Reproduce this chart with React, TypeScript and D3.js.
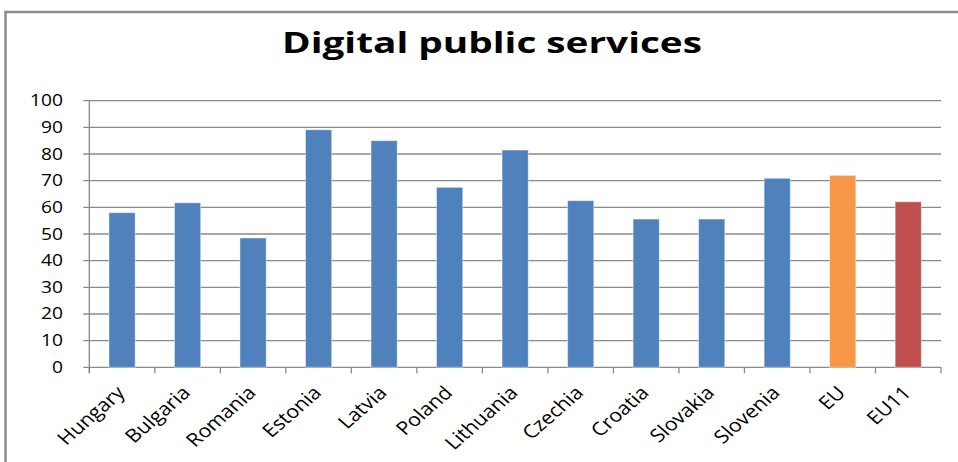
import React from "react";
import * as d3 from "d3";

const categories = ["Hungary", "Bulgaria", "Romania", "Estonia", "Latvia", "Poland", "Lithuania", "Czechia", "Croatia", "Slovakia", "Slovenia", "EU", "EU11"];
const values = [58.0, 61.7, 48.5, 89.1, 85.0, 67.5, 81.5, 62.5, 55.6, 55.6, 70.9, 72.0, 62.1];
const barColors = ["#4F81BD", "#4F81BD", "#4F81BD", "#4F81BD", "#4F81BD", "#4F81BD", "#4F81BD", "#4F81BD", "#4F81BD", "#4F81BD", "#4F81BD", "#F79646", "#C0504D"];
const yTicks = [0, 10, 20, 30, 40, 50, 60, 70, 80, 90, 100];
const title = "Digital public services";

const W = 958;
const H = 462;
const left = 89.3;
const right = 941;
const top = 100.7;
const bottom = 367.3;
const SX = 1.2;

export default function App() {
  const x = d3.scaleBand<string>().domain(categories).range([left, right]).paddingInner(0.6).paddingOuter(0.3);
  const y = d3.scaleLinear().domain([0, 100]).range([bottom, top]);
  const font = "'Open Sans', 'DejaVu Sans', sans-serif";
  const step = x.step();
  return (
    <svg width={W} height={H} style={{ position: "absolute", left: 0, top: 0, background: "#fff" }}>
      <rect x={5.5} y={12} width={W + 20} height={H + 20} fill="#fff" stroke="#8c8c8c" strokeWidth={2.5} />
      <text
        x={492}
        y={53}
        textAnchor="middle"
        fontFamily={font}
        fontWeight="bold"
        fontSize={28}
        textLength={420}
        lengthAdjust="spacingAndGlyphs"
        fill="#000"
      >
        {title}
      </text>
      {yTicks.map((t) => (
        <g key={t}>
          <line x1={left - 6} x2={right} y1={y(t)} y2={y(t)} stroke="#8a8a8a" strokeWidth={1.3} />
          <g transform={`translate(${63},${y(t) + 5.5}) scale(${SX},1)`}>
            <text textAnchor="end" fontFamily={font} fontSize={16} fill="#000">{t}</text>
          </g>
        </g>
      ))}
      <line x1={left} x2={left} y1={top} y2={bottom + 6} stroke="#8a8a8a" strokeWidth={1.3} />
      {d3.range(categories.length + 1).map((i) => (
        <line key={i} x1={left + i * step} x2={left + i * step} y1={bottom} y2={bottom + 6} stroke="#8a8a8a" strokeWidth={1.3} />
      ))}
      {categories.map((c, i) => (
        <rect
          key={c}
          x={x(c)}
          y={y(values[i])}
          width={x.bandwidth()}
          height={y(0) - y(values[i])}
          fill={barColors[i]}
          stroke="#ffffff"
          strokeOpacity={0.45}
          strokeWidth={1}
        />
      ))}
      {categories.map((c) => {
        const cx = (x(c) as number) + x.bandwidth() / 2;
        return (
          <g key={c} transform={`translate(${cx + 4},${394}) scale(1.15,1) rotate(-45)`}>
            <text textAnchor="end" fontFamily={font} fontSize={18.5} fill="#000">{c}</text>
          </g>
        );
      })}
    </svg>
  );
}
